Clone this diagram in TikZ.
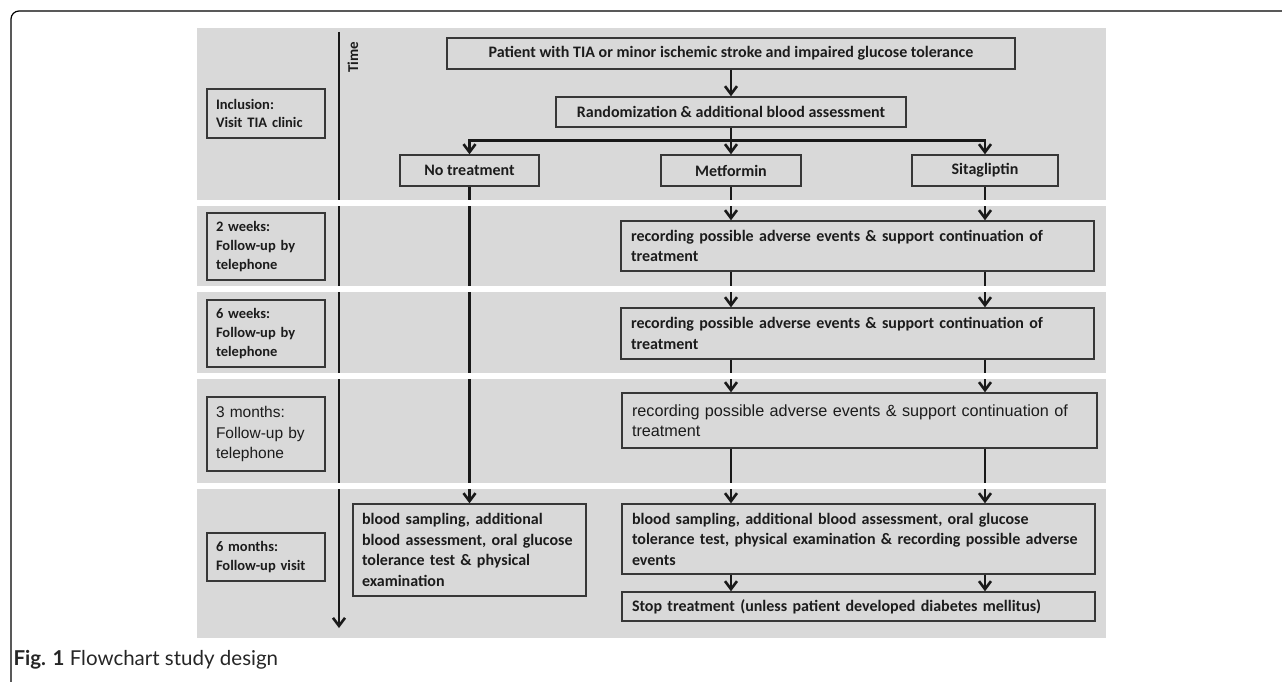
\documentclass[tikz,border=0pt]{standalone}
\usepackage{fontspec}
\setmainfont{Carlito}
\newfontfamily\arialfont{Liberation Sans}
\newfontfamily\capfont{Lato}
\usetikzlibrary{arrows.meta}
\definecolor{panelgray}{RGB}{217,217,217}
\definecolor{boxline}{RGB}{55,55,55}
\definecolor{inktext}{RGB}{28,28,28}

\begin{document}
\begin{tikzpicture}[x=1pt, y=-1pt,
  box/.style={draw=boxline, line width=1.4pt, text=inktext, inner xsep=10pt, inner ysep=0pt,
              align=left, font=\bfseries\fontsize{16}{20.5}\selectfont},
  armbox/.style={box, align=center},
  stagebox/.style={box, text width=100, inner xsep=9pt, font=\bfseries\fontsize{14.5}{18.7}\selectfont},
  plainbox/.style={box, font=\arialfont\fontsize{16.2}{20}\selectfont},
  conn/.style={line width=2.4pt, black!90},
  arr/.style={conn, -{Straight Barb[length=8pt, width=12pt, line width=2.6pt]}},
  gap/.style={fill=white, draw=none},
]
\useasboundingbox (0,0) rectangle (1282,682);

% outer frame and caption
\draw[line width=1.2pt, rounded corners=8pt] (11,682) -- (11,11) -- (1282,11);
\node[anchor=west, font=\capfont\fontsize{20.5}{24}\selectfont, text=black!85] (cap) at (10,660)
  {\textbf{Fig. 1} Flowchart study design};

% grey panel
\fill[panelgray] (197,28) rectangle (1106,638);

% time axis
\coordinate (ttop) at (339,32);
\coordinate (tbot) at (339,628);
\draw[arr, line width=2.6pt] (ttop) -- (tbot);
\node[rotate=90, font=\bfseries\fontsize{15}{17}\selectfont, text=inktext] (time) at (353,57) {Time};

% left column: visit moments
\node[stagebox, minimum height=49] (incl) at (266,113.5) {Inclusion:\\Visit TIA clinic};
\node[stagebox, minimum height=67] (wk2)  at (266,246.5) {2 weeks:\\Follow-up by\\telephone};
\node[stagebox, minimum height=67] (wk6)  at (266,333.5) {6 weeks:\\Follow-up by\\telephone};
\node[stagebox, minimum height=74, font=\arialfont\fontsize{15.5}{20.5}\selectfont] (mo3) at (266,434)
  {3 months:\\Follow-up by\\telephone};
\node[stagebox, minimum height=48] (mo6)  at (266,557) {6 months:\\Follow-up visit};

% top: inclusion and randomisation
\node[armbox, minimum width=568, minimum height=31] (pat)  at (731,53.5)
  {Patient with TIA or minor ischemic stroke and impaired glucose tolerance};
\node[armbox, minimum width=350, minimum height=30] (rand) at (731,112)
  {Randomization \& additional blood assessment};

% the three arms
\node[armbox, minimum width=139, minimum height=31] (notr) at (469.5,170.5) {No treatment};
\node[armbox, minimum width=140, minimum height=31] (metf) at (731,170.5)   {Metformin};
\node[armbox, minimum width=146, minimum height=31] (sita) at (985,170.5)   {Sitagliptin};

% follow-up of the treated arms
\node[box, text width=453, minimum height=50] (rec1) at (857.5,246)
  {recording possible adverse events \& support continuation of\\treatment};
\node[box, text width=453, minimum height=51] (rec2) at (857.5,333.5)
  {recording possible adverse events \& support continuation of\\treatment};
\node[plainbox, text width=455, minimum height=55] (rec3) at (859.5,420.5)
  {recording possible adverse events \& support continuation of\\treatment};
\node[box, text width=453, minimum height=70] (bldR) at (858.5,539)
  {blood sampling, additional blood assessment, oral glucose\\tolerance test, physical examination \& recording possible adverse\\events};
\node[box, text width=453, minimum height=29] (stop) at (858.5,606.5)
  {Stop treatment (unless patient developed diabetes mellitus)};

% final visit of the untreated arm
\node[box, text width=215, inner xsep=9pt, minimum height=92] (bldL) at (469.5,550)
  {blood sampling, additional\\blood assessment, oral glucose\\tolerance test \& physical\\examination};

% connectors
\draw[arr] (pat.south) -- (rand.north);
\draw[conn] (rand.south) -- ++(0,13) coordinate (br);
\draw[arr] (br) -| (notr.north);
\draw[arr] (br) -- (metf.north);
\draw[arr] (br) -| (sita.north);

\draw[arr] (metf.south) -- (metf.south |- rec1.north);
\draw[arr] (sita.south) -- (sita.south |- rec1.north);
\draw[arr] (metf.south |- rec1.south) -- (metf.south |- rec2.north);
\draw[arr] (sita.south |- rec1.south) -- (sita.south |- rec2.north);
\draw[arr] (metf.south |- rec2.south) -- (metf.south |- rec3.north);
\draw[arr] (sita.south |- rec2.south) -- (sita.south |- rec3.north);
\draw[arr] (metf.south |- rec3.south) -- (metf.south |- bldR.north);
\draw[arr] (sita.south |- rec3.south) -- (sita.south |- bldR.north);
\draw[arr] (metf.south |- bldR.south) -- (metf.south |- stop.north);
\draw[arr] (sita.south |- bldR.south) -- (sita.south |- stop.north);

\draw[arr] (notr.south) -- (bldL.north);

% white gaps between the visit rows
\fill[gap] (197,200) rectangle (1106,206);
\fill[gap] (197,286) rectangle (1106,292);
\fill[gap] (197,373) rectangle (1106,379);
\fill[gap] (197,483) rectangle (1106,489);
\end{tikzpicture}
\end{document}
